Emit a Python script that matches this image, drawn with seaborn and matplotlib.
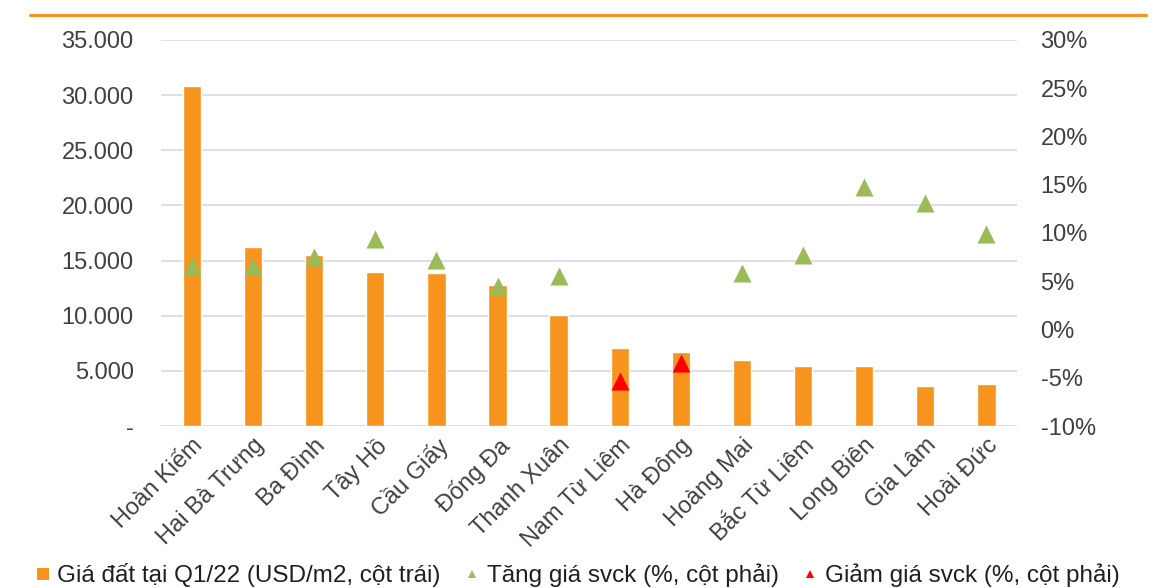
import numpy as np
import pandas as pd
import matplotlib
matplotlib.use("Agg")
import matplotlib.pyplot as plt
import matplotlib.ticker as mticker
from matplotlib.lines import Line2D
import seaborn as sns

# data
districts = ['Hoàn Kiếm', 'Hai Bà Trưng', 'Ba Đình', 'Tây Hồ', 'Cầu Giấy', 'Đống Đa',
             'Thanh Xuân', 'Nam Từ Liêm', 'Hà Đông', 'Hoàng Mai', 'Bắc Từ Liêm',
             'Long Biên', 'Gia Lâm', 'Hoài Đức']
price = [30800, 16200, 15550, 14000, 13850, 12750, 10050, 7050, 6700, 6000, 5450, 5450, 3600, 3800]
change_pct = [6.6, 6.6, 7.5, 9.4, 7.2, 4.5, 5.5, -5.3, -3.5, 5.9, 7.7, 14.8, 13.1, 9.9]

ORANGE = '#F7941D'
GREEN = '#9BBB59'
RED = '#FF0000'
TXT = '#404040'

sns.set_style('white')
plt.rcParams['font.family'] = ['Liberation Sans', 'DejaVu Sans']

df = pd.DataFrame({'district': districts, 'price': price, 'change': change_pct})
df['dir'] = np.where(df['change'] >= 0, 'up', 'down')

fig = plt.figure(figsize=(11.53, 5.88), dpi=100)
ax = fig.add_axes([0.140, 0.2755, 0.742, 0.6565])

sns.barplot(data=df, x='district', y='price', color=ORANGE, width=0.3,
            saturation=1, ax=ax, zorder=2)
ax.set_ylim(0, 35000)
ax.set_xlim(-0.5, len(districts) - 0.5)
ax.yaxis.set_major_locator(mticker.MultipleLocator(5000))
ax.yaxis.set_major_formatter(mticker.FuncFormatter(
    lambda v, p: '-' if v == 0 else f'{int(v):,}'.replace(',', '.')))
ax.grid(axis='y', color='#D9D9D9', linewidth=1.2, zorder=0)
ax.set_axisbelow(True)
for s in ax.spines.values():
    s.set_visible(False)
ax.set_xlabel('')
ax.set_ylabel('')
ax.tick_params(axis='y', length=0, pad=20, labelsize=17, labelcolor=TXT)
ax.tick_params(axis='x', length=0, pad=6, labelsize=17, labelcolor=TXT)
plt.setp(ax.get_xticklabels(), rotation=45, ha='right', rotation_mode='anchor')

ax2 = ax.twinx()
sns.stripplot(data=df, x='district', y='change', hue='dir', hue_order=['up', 'down'],
              palette={'up': GREEN, 'down': RED}, jitter=False, marker='^', size=13,
              linewidth=0, ax=ax2, legend=False, zorder=3)
ax2.set_ylim(-10, 30)
ax2.set_xlim(-0.5, len(districts) - 0.5)
ax2.yaxis.set_major_locator(mticker.MultipleLocator(5))
ax2.yaxis.set_major_formatter(mticker.FuncFormatter(lambda v, p: f'{v:.0f}%'))
for s in ax2.spines.values():
    s.set_visible(False)
ax2.set_ylabel('')
ax2.tick_params(axis='y', length=0, pad=17, labelsize=17, labelcolor=TXT)

# orange rule at the top
fig.add_artist(Line2D([0.026, 0.994], [0.974, 0.974], color=ORANGE, linewidth=2.2))

handles = [
    Line2D([], [], marker='s', color='none', markerfacecolor=ORANGE, markeredgewidth=0, markersize=9),
    Line2D([], [], marker='^', color='none', markerfacecolor=GREEN, markeredgewidth=0, markersize=6),
    Line2D([], [], marker='^', color='none', markerfacecolor=RED, markeredgewidth=0, markersize=6),
]
labels = ['Giá đất tại Q1/22 (USD/m2, cột trái)', 'Tăng giá svck (%, cột phải)',
          'Giảm giá svck (%, cột phải)']
fig.legend(handles, labels, loc='center left', bbox_to_anchor=(0.018, 0.022), ncol=3,
           frameon=False, fontsize=17.5, handlelength=0.6, handletextpad=0.3,
           columnspacing=1.0, labelcolor='#202020', borderpad=0.1)

fig.savefig('out.png', dpi=100)
